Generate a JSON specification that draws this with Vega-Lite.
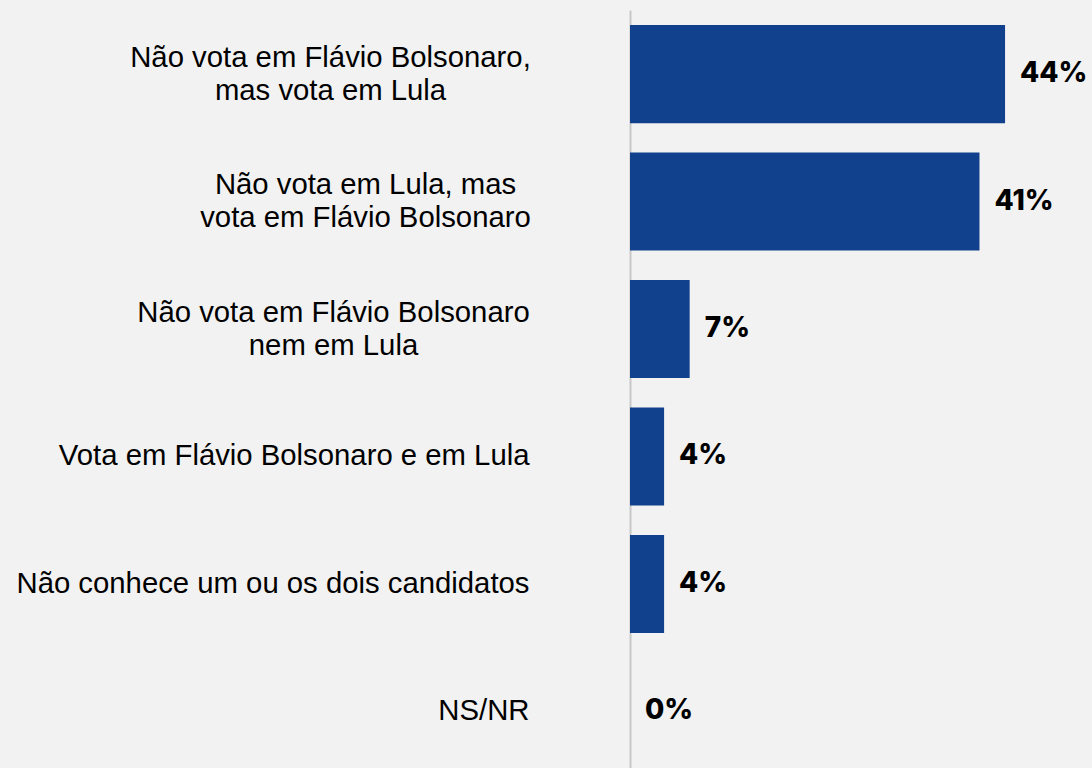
{
  "$schema": "https://vega.github.io/schema/vega-lite/v6.json",
  "autosize": "none",
  "width": 462,
  "height": 758,
  "padding": {"left": 630, "top": 10, "right": 0, "bottom": 0},
  "background": "#f2f2f2",
  "config": {"view": {"stroke": null}},
  "data": {"values": [
    {"cat": "Não vota em Flávio Bolsonaro,|mas vota em Lula", "pct": 0.44},
    {"cat": "Não vota em Lula, mas|vota em Flávio Bolsonaro", "pct": 0.41},
    {"cat": "Não vota em Flávio Bolsonaro|nem em Lula", "pct": 0.07},
    {"cat": "Vota em Flávio Bolsonaro e em Lula", "pct": 0.04},
    {"cat": "Não conhece um ou os dois candidatos", "pct": 0.04},
    {"cat": "NS/NR", "pct": 0}
  ]},
  "encoding": {
    "y": {
      "field": "cat", "type": "nominal", "sort": null,
      "scale": {"paddingInner": 0.23, "paddingOuter": 0.088, "align": 0.667},
      "axis": {
        "title": null, "ticks": false, "domain": true, "domainColor": "#c8c8c8", "domainWidth": 2,
        "labelExpr": "split(datum.value, '|')",
        "labelFont": "Liberation Sans", "labelFontSize": 29.3, "labelColor": "#000000",
        "labelLineHeight": 33, "labelLimit": 620, "labelBaseline": "middle",
        "labelAlign": {"condition": {"test": "indexof(datum.value, '|') >= 0", "value": "center"}, "value": "right"},
        "labelPadding": {"condition": [
          {"test": "indexof(datum.value, 'mas vota em Lula') >= 0", "value": 300},
          {"test": "indexof(datum.value, 'vota em Flávio Bolsonaro') >= 0 && indexof(datum.value, '|') >= 0 && indexof(datum.value, 'Lula, mas') >= 0", "value": 265},
          {"test": "indexof(datum.value, 'nem em Lula') >= 0", "value": 297}
        ], "value": 101},
        "labelOffset": {"condition": {"test": "indexof(datum.value, '|') >= 0", "value": -16.5}, "value": 0}
      }
    },
    "x": {
      "field": "pct", "type": "quantitative",
      "scale": {"domain": [0, 0.542], "nice": false, "zero": true},
      "axis": null
    }
  },
  "layer": [
    {"mark": {"type": "bar", "color": "#11408c"}},
    {
      "mark": {"type": "text", "align": "left", "baseline": "middle", "dx": 15, "font": "Inter", "fontWeight": 800, "fontSize": 28, "color": "#000000"},
      "encoding": {"text": {"field": "pct", "type": "quantitative", "format": ".0%"}}
    }
  ]
}
